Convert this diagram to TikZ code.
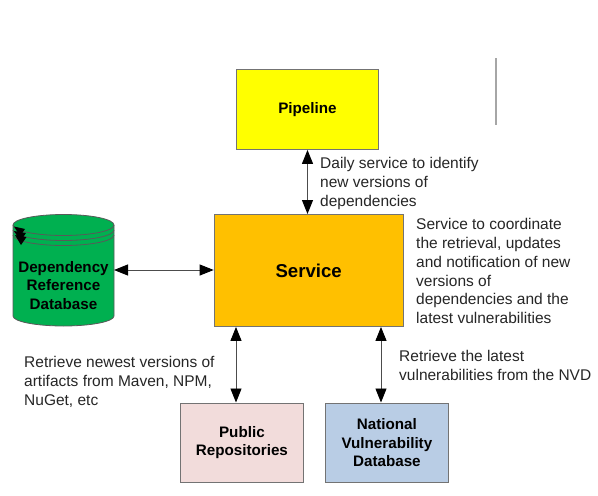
\documentclass[tikz,border=0pt]{standalone}
\usepackage{fontspec}
\setmainfont{Liberation Sans}
\usetikzlibrary{arrows.meta}
\definecolor{cylgreen}{RGB}{0,176,80}
\definecolor{pipeyellow}{RGB}{255,255,0}
\definecolor{svcorange}{RGB}{255,192,0}
\definecolor{pubpink}{RGB}{242,220,219}
\definecolor{nvdblue}{RGB}{185,205,229}
\tikzset{
  box/.style={draw=black!55,line width=0.9pt,rectangle,anchor=north west,align=center,inner sep=0pt,font=\fontsize{15.2}{18.7}\selectfont\bfseries},
  link/.style={draw=black!70,line width=0.9pt,{Triangle[length=14pt,width=11pt,fill=black,color=black]}-{Triangle[length=14pt,width=11pt,fill=black,color=black]}},
  note/.style={anchor=north west,align=left,inner sep=0pt,text=black!85,font=\fontsize{15.5}{18.7}\selectfont},
  tinyhead/.style={fill=black,draw=none},
  cylline/.style={draw=black!65,line width=0.8pt},
}
\begin{document}
\begin{tikzpicture}[x=1pt,y=-1pt]
\useasboundingbox (0,0) rectangle (598,496);
\fill[white] (0,0) rectangle (598,496);
% database cylinder
\path[fill=cylgreen,cylline] (13,225) arc[start angle=180,end angle=0,x radius=50.5pt,y radius=10.5pt] -- (114,316) arc[start angle=0,end angle=-180,x radius=50.5pt,y radius=10pt] -- cycle;
\path[cylline] (13,225) arc[start angle=180,end angle=360,x radius=50.5pt,y radius=10.5pt];
\path[cylline] (13,230) arc[start angle=180,end angle=360,x radius=50.5pt,y radius=10.5pt];
\path[cylline] (13,235) arc[start angle=180,end angle=360,x radius=50.5pt,y radius=10.5pt];
\fill[tinyhead] (14,226.5) -- (25,229) -- (20,236) -- cycle;
\fill[tinyhead] (14,231) -- (26,233) -- (20.5,241) -- cycle;
\fill[tinyhead] (15,235) -- (26.5,237) -- (21,245) -- cycle;
\node[align=center,inner sep=0pt,font=\fontsize{15.2}{18.7}\selectfont\bfseries] (db) at (63.5,285.5) {Dependency\\Reference\\Database};
\coordinate (dbedge) at (114,270);
% boxes
\node[box,fill=pipeyellow,minimum width=142pt,minimum height=80pt] (pipe) at (236,69) {\raisebox{-1pt}{Pipeline}};
\node[box,fill=svcorange,minimum width=189pt,minimum height=112pt,font=\fontsize{18.6}{22}\selectfont\bfseries] (svc) at (213.7,214) {Service};
\node[box,fill=pubpink,minimum width=122.5pt,minimum height=79.5pt] (pub) at (180.2,402.5) {Public\\Repositories};
\node[box,fill=nvdblue,minimum width=122.5pt,minimum height=79.5pt] (nvd) at (325.2,402.5) {National\\Vulnerability\\Database};
% connector guides
\coordinate (xa) at (307.5,0);
\coordinate (xb) at (236,0);
\coordinate (xc) at (381,0);
\draw[link] (pipe.south -| xa) -- (svc.north -| xa);
\draw[link] (dbedge) -- (dbedge -| svc.west);
\draw[link] (svc.south -| xb) -- (pub.north -| xb);
\draw[link] (svc.south -| xc) -- (nvd.north -| xc);
% notes
\node[note] (n1) at (320,157.5) {Daily service to identify\\new versions of\\dependencies};
\node[note] (n2) at (416,218.5) {Service to coordinate\\the retrieval, updates\\and notification of new\\versions of\\dependencies and the\\latest vulnerabilities};
\node[note] (n3) at (24,356.5) {Retrieve newest versions of\\artifacts from Maven, NPM,\\NuGet, etc};
\node[note] (n4) at (399,350.5) {Retrieve the latest\\vulnerabilities from the NVD};
% grey rule
\coordinate (ra) at (496,58);
\coordinate (rb) at (496,125);
\draw[draw=black!35,line width=1.1pt] (ra) -- (rb);
\end{tikzpicture}
\end{document}
